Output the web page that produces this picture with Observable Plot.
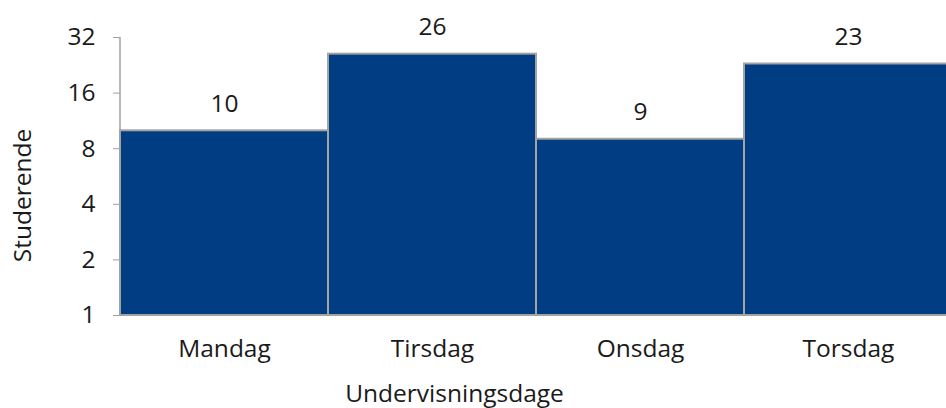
<!DOCTYPE html>
<html>
<head>
<meta charset="utf-8">
<script src="https://cdn.jsdelivr.net/npm/d3@7"></script>
<script src="https://cdn.jsdelivr.net/npm/@observablehq/plot@0.6"></script>
<style>
  html, body { margin: 0; padding: 0; background: #fff; overflow: hidden; }
  #chart svg { display: block; }
</style>
</head>
<body>
<div id="chart"></div>
<script>
const days = ["Mandag", "Tirsdag", "Onsdag", "Torsdag"];
const students = [10, 26, 9, 23];
const yTicks = [1, 2, 4, 8, 16, 32];
const xLabel = "Undervisningsdage";
const yLabel = "Studerende";

const data = days.map((d, i) => ({day: d, value: students[i]}));
const font = "'Open Sans', sans-serif";
const ink = "#1a1a1a";
const fs = 24.5;

const chart = Plot.plot({
  width: 946,
  height: 408,
  marginLeft: 120,
  marginRight: 0,
  marginTop: 37,
  marginBottom: 93,
  style: {fontFamily: font, fontSize: fs + "px", color: ink, background: "#fff"},
  x: {type: "band", domain: days, range: [120, 952], padding: 0, label: null},
  y: {type: "log", base: 2, domain: [1, 32], range: [315, 37], label: null},
  marks: [
    Plot.gridY(yTicks, {stroke: "#dcdcdc", strokeOpacity: 1, strokeWidth: 1, x1: 113, x2: 946}),
    Plot.axisY(yTicks, {tickSize: 7, tickPadding: 18, stroke: "#a0a0a0", strokeOpacity: 1, fontSize: fs, fill: ink, label: null, tickFormat: d => String(d)}),
    Plot.axisX({tickSize: 0, tickPadding: 24, fontSize: fs, fill: ink, label: null}),
    Plot.barY(data, {x: "day", y1: 1, y2: "value", fill: "#003d82", stroke: "#a3a3a3", strokeWidth: 2, inset: 0}),
    (index, scales, values, dims) => {
      const g = d3.create("svg:line")
        .attr("x1", dims.marginLeft).attr("x2", dims.marginLeft)
        .attr("y1", scales.y(32)).attr("y2", scales.y(1))
        .attr("stroke", "#a0a0a0").attr("stroke-width", 1.5);
      return g.node();
    },
    Plot.text(data, {x: "day", y: "value", text: d => String(d.value), dy: -27, fontSize: fs, fill: ink}),
    Plot.text([xLabel], {frameAnchor: "bottom", lineAnchor: "middle", textAnchor: "middle", dy: 78.5, dx: -79, fontSize: fs, fill: ink}),
    Plot.text([yLabel], {frameAnchor: "left", lineAnchor: "middle", textAnchor: "middle", rotate: -90, dx: -97, dy: 19, fontSize: fs, fill: ink})
  ]
});
document.getElementById("chart").appendChild(chart);
</script>
</body>
</html>
